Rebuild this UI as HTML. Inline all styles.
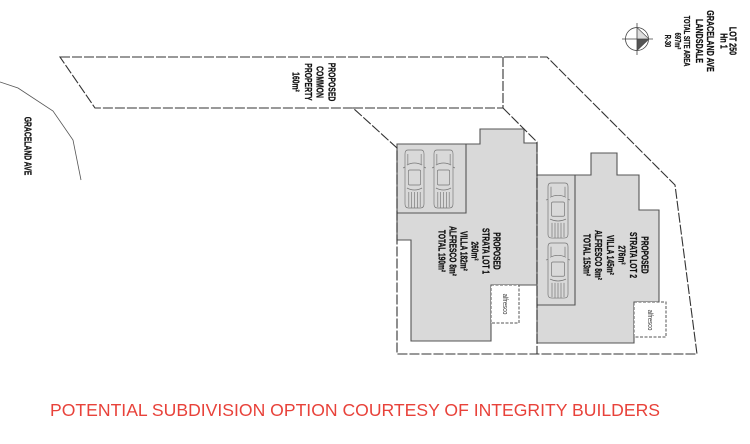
<!DOCTYPE html>
<html>
<head>
<meta charset="utf-8">
<style>
  html,body{margin:0;padding:0;background:#fff;}
  svg{display:block;}
  .lbl{font-family:"Liberation Sans",Arial,sans-serif;font-weight:bold;fill:#111;stroke:#111;stroke-width:0.25;}
  .alf{font-family:"Liberation Sans",Arial,sans-serif;font-weight:normal;fill:#333;}
</style>
</head>
<body>
<svg width="750" height="444" viewBox="0 0 750 444" xmlns="http://www.w3.org/2000/svg">
  <defs>
    <g id="car" fill="none" stroke="#777" stroke-width="0.7">
      <path d="M3,0 H17 Q20,0 20,4 V54 Q20,58 16,58 H4 Q0,58 0,54 V4 Q0,0 3,0 Z"/>
      <path d="M2,15 Q10,11 18,15"/>
      <rect x="3.5" y="20" width="13" height="15" rx="1.5"/>
      <path d="M2,38 Q10,42 18,38"/>
      <path d="M4,42 V57 M7,42 V58 M10,42 V58 M13,42 V58 M16,42 V57"/>
      <path d="M0,17 L-2,18 M20,17 L22,18"/>
      <path d="M3,4 V14 M17,4 V14"/>
    </g>
  </defs>

  <rect width="750" height="444" fill="#fff"/>

  <!-- Graceland Ave road curve -->
  <polyline points="0,82 18,88 53,111 73,140 81,180" fill="none" stroke="#555" stroke-width="0.8"/>

  <!-- Houses -->
  <path d="M397,144 H480 V129 H524 V143 H537 V285 H491 V341 H411 V240 H397 Z" fill="#d9d9d9" stroke="#555" stroke-width="1.1"/>
  <path d="M466,144 V213 H397" fill="none" stroke="#555" stroke-width="1.1"/>
  <rect x="491" y="285" width="28" height="38" fill="#fff" stroke="#555" stroke-width="1" stroke-dasharray="3 1.5"/>

  <path d="M537,175 H591 V153 H617 V175 H639 V210 H659 V302 H634 V343 H537 Z" fill="#d9d9d9" stroke="#555" stroke-width="1.1"/>
  <path d="M575,175 V305 H537" fill="none" stroke="#555" stroke-width="1.1"/>
  <rect x="634" y="302" width="32" height="35" fill="#fff" stroke="#555" stroke-width="1" stroke-dasharray="3 1.5"/>

  <!-- Cars -->
  <use href="#car" transform="translate(405,150) scale(0.95,1)"/>
  <use href="#car" transform="translate(434,150) scale(0.95,1)"/>
  <use href="#car" transform="translate(548,183) scale(1,0.95)"/>
  <use href="#car" transform="translate(548,243) scale(1,0.95)"/>

  <!-- Boundaries -->
  <g fill="none" stroke="#333" stroke-width="1.1" stroke-dasharray="10 2">
    <path d="M60,57 L547,57 L675,185 L697,354 L397,354 L397,148 L353,108 L95,108 Z"/>
    <path d="M353,108 H503"/>
    <path d="M503,57 V108"/>
    <path d="M503,108 L537,142 V354"/>
  </g>

  <!-- Compass -->
  <path d="M637,27.5 L649,39 L637,39 Z" fill="#ddd"/>
  <path d="M637,39 L649,39 L637,50.5 Z" fill="#555"/>
  <path d="M637,27.5 L649,39 L637,50.5" fill="none" stroke="#444" stroke-width="0.6"/>
  <circle cx="637" cy="39" r="11.5" fill="none" stroke="#444" stroke-width="0.8"/>
  <path d="M622,39 H653 M637,23 V55" stroke="#444" stroke-width="0.8"/>

  <!-- Top-right info -->
  <g class="lbl" text-anchor="middle">
    <text font-size="10.5" transform="translate(729.4,41) rotate(90) scale(0.68,1)">LOT 250</text>
    <text font-size="10.5" transform="translate(720.4,41) rotate(90) scale(0.68,1)">Hn 1</text>
    <text font-size="10.5" transform="translate(707.2,41) rotate(90) scale(0.68,1)">GRACELAND AVE</text>
    <text font-size="10.5" transform="translate(696.2,41) rotate(90) scale(0.68,1)">LANDSDALE</text>
    <text font-size="8.5" transform="translate(684,41) rotate(90) scale(0.68,1)">TOTAL SITE AREA</text>
    <text font-size="8.5" transform="translate(675,41) rotate(90) scale(0.68,1)">697m²</text>
    <text font-size="8.5" transform="translate(665,41) rotate(90) scale(0.68,1)">R-30</text>
  </g>

  <!-- Common property -->
  <g class="lbl" text-anchor="middle" font-size="10">
    <text transform="translate(328.4,82) rotate(90) scale(0.68,1)">PROPOSED</text>
    <text transform="translate(316.6,82) rotate(90) scale(0.68,1)">COMMON</text>
    <text transform="translate(305,82) rotate(90) scale(0.68,1)">PROPERTY</text>
    <text transform="translate(292.3,82) rotate(90) scale(0.68,1)">160m²</text>
  </g>

  <!-- Road label -->
  <text class="lbl" text-anchor="middle" font-size="10" transform="translate(24.4,146) rotate(90) scale(0.68,1)">GRACELAND AVE</text>

  <!-- Lot 1 label -->
  <g class="lbl" text-anchor="middle" font-size="10">
    <text transform="translate(493.4,251) rotate(90) scale(0.66,1)">PROPOSED</text>
    <text transform="translate(482.4,251) rotate(90) scale(0.66,1)">STRATA LOT 1</text>
    <text transform="translate(471.4,251) rotate(90) scale(0.66,1)">260m²</text>
    <text transform="translate(460.4,251) rotate(90) scale(0.66,1)">VILLA 182m²</text>
    <text transform="translate(449.4,251) rotate(90) scale(0.66,1)">ALFRESCO 8m²</text>
    <text transform="translate(438.4,251) rotate(90) scale(0.66,1)">TOTAL 190m²</text>
  </g>

  <!-- Lot 2 label -->
  <g class="lbl" text-anchor="middle" font-size="10">
    <text transform="translate(641.4,255) rotate(90) scale(0.66,1)">PROPOSED</text>
    <text transform="translate(630,255) rotate(90) scale(0.66,1)">STRATA LOT 2</text>
    <text transform="translate(618.4,255) rotate(90) scale(0.66,1)">276m²</text>
    <text transform="translate(606.8,255) rotate(90) scale(0.66,1)">VILLA 145m²</text>
    <text transform="translate(595.2,255) rotate(90) scale(0.66,1)">ALFRESCO 8m²</text>
    <text transform="translate(583.6,255) rotate(90) scale(0.66,1)">TOTAL 153m²</text>
  </g>

  <!-- Alfresco labels -->
  <text class="alf" text-anchor="middle" font-size="7" transform="translate(503.2,304) rotate(90) scale(0.85,1)">alfresco</text>
  <text class="alf" text-anchor="middle" font-size="7" transform="translate(648.2,320) rotate(90) scale(0.85,1)">alfresco</text>

  <!-- Caption -->
  <text x="50" y="416" font-family="'Liberation Sans', Arial, sans-serif" font-size="17.5" fill="#e8423a" textLength="610" lengthAdjust="spacingAndGlyphs">POTENTIAL SUBDIVISION OPTION COURTESY OF INTEGRITY BUILDERS</text>
</svg>
</body>
</html>
